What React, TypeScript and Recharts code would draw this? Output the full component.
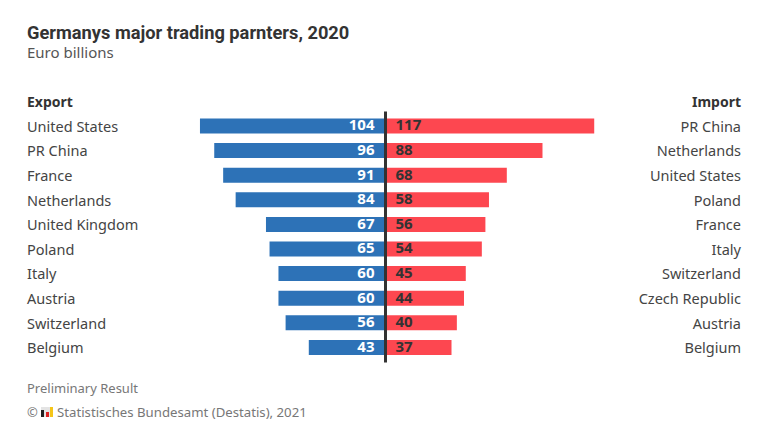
import React from 'react';
import { BarChart, Bar, XAxis, YAxis, ReferenceLine, LabelList } from 'recharts';

const exportNames = ['United States', 'PR China', 'France', 'Netherlands', 'United Kingdom', 'Poland', 'Italy', 'Austria', 'Switzerland', 'Belgium'];
const exportValues = [104, 96, 91, 84, 67, 65, 60, 60, 56, 43];
const importNames = ['PR China', 'Netherlands', 'United States', 'Poland', 'France', 'Italy', 'Switzerland', 'Czech Republic', 'Austria', 'Belgium'];
const importValues = [117, 88, 68, 58, 56, 54, 45, 44, 40, 37];

const FONT = '"Noto Sans", sans-serif';
const TEXT = '#444';

// exports run to the left of the centre line, so they are negated here
const rows = exportNames.map((name, i) => ({
  row: `r${i}`,
  exportName: name,
  importName: importNames[i],
  exportValue: -exportValues[i],
  importValue: importValues[i],
}));

const LeftTick = ({ y, index }: any) => (
  <text x={27} y={y} dy={6} textAnchor="start" fontFamily={FONT} fontSize={14.5} fill={TEXT}>
    {exportNames[index]}
  </text>
);

const RightTick = ({ y, index }: any) => (
  <text x={741} y={y} dy={6} textAnchor="end" fontFamily={FONT} fontSize={14.5} fill={TEXT}>
    {importNames[index]}
  </text>
);

const CentreLine = ({ x1, y1, y2 }: any) => (
  <line x1={x1} x2={x1} y1={y1 + 3} y2={y2 - 2} stroke="#333" strokeWidth={3} />
);

const abs = (v: any) => Math.abs(Number(v));

const textStyle = (left: number, top: number, extra: React.CSSProperties = {}): React.CSSProperties => ({
  position: 'absolute',
  left,
  top,
  fontFamily: FONT,
  whiteSpace: 'nowrap',
  ...extra,
});

export default function App() {
  return (
    <div style={{ position: 'absolute', left: 0, top: 0, width: 768, height: 432, background: '#fff', overflow: 'hidden' }}>
      <div style={textStyle(27, 23, { fontFamily: 'Roboto, sans-serif', fontSize: 18.25, lineHeight: '20px', fontWeight: 700, color: '#333' })}>
        Germanys major trading parnters, 2020
      </div>
      <div style={textStyle(27, 43, { fontSize: 15, lineHeight: '18px', color: '#555' })}>Euro billions</div>
      <div style={textStyle(27, 93, { fontSize: 14, lineHeight: '18px', fontWeight: 700, color: '#333' })}>Export</div>
      <div style={textStyle(0, 93, { width: 741, textAlign: 'right', fontSize: 14, lineHeight: '18px', fontWeight: 700, color: '#333' })}>Import</div>

      <BarChart
        width={768}
        height={432}
        data={rows}
        layout="vertical"
        stackOffset="sign"
        barCategoryGap={5}
        margin={{ top: 113.5, right: 0, bottom: 72.5, left: 3 }}
        style={{ position: 'absolute', left: 0, top: 0 }}
      >
        <XAxis type="number" domain={[-213.85, 213.85]} hide />
        <YAxis yAxisId="left" type="category" dataKey="row" orientation="left" width={1} axisLine={false} tickLine={false} interval={0} tick={<LeftTick />} />
        <YAxis yAxisId="right" type="category" dataKey="row" orientation="right" width={1} axisLine={false} tickLine={false} interval={0} tick={<RightTick />} />
        <Bar yAxisId="left" dataKey="exportValue" stackId="trade" fill="#2d72b7" isAnimationActive={false}>
          <LabelList dataKey="exportValue" position="insideLeft" offset={11} dy={-1} formatter={abs} fill="#fff" fontFamily={FONT} fontSize={15} fontWeight={700} />
        </Bar>
        <Bar yAxisId="left" dataKey="importValue" stackId="trade" fill="#fd4750" isAnimationActive={false}>
          <LabelList dataKey="importValue" position="insideLeft" offset={10} dy={-1} fill="#333" fontFamily={FONT} fontSize={15} fontWeight={700} />
        </Bar>
        <ReferenceLine yAxisId="left" x={0} shape={<CentreLine />} />
      </BarChart>

      <div style={textStyle(27, 379, { fontSize: 13, lineHeight: '18px', color: '#777' })}>Preliminary Result</div>
      <div style={textStyle(27, 403, { fontSize: 13, lineHeight: '18px', color: '#777' })}>©</div>
      <div style={{ position: 'absolute', left: 41, top: 407, width: 12, height: 10, background: '#e4e4e4', display: 'flex', alignItems: 'flex-end', justifyContent: 'space-between' }}>
        <span style={{ width: 3, height: 7, background: '#222' }} />
        <span style={{ width: 3, height: 5, background: '#d22' }} />
        <span style={{ width: 3, height: 10, background: '#f5c518' }} />
      </div>
      <div style={textStyle(57, 403, { fontSize: 13.2, lineHeight: '18px', color: '#777' })}>Statistisches Bundesamt (Destatis), 2021</div>
    </div>
  );
}
